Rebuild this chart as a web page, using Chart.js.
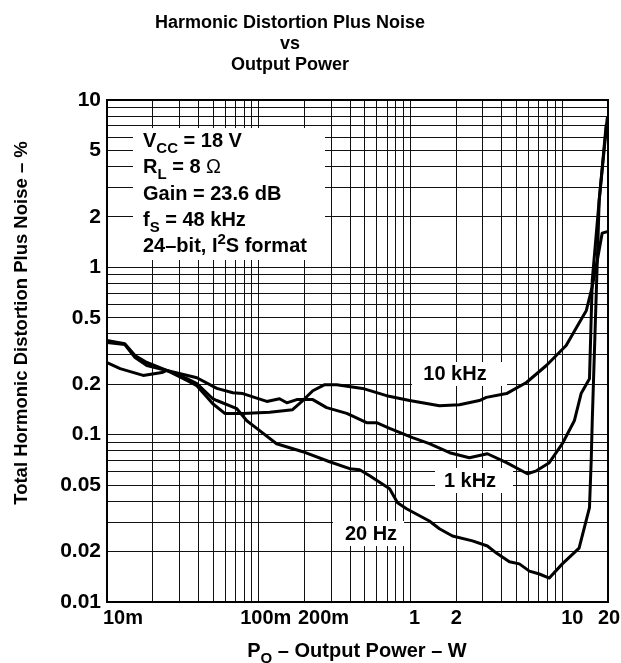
<!DOCTYPE html>
<html>
<head>
<script src="https://cdn.jsdelivr.net/npm/chart.js@4"></script>
<style>body{margin:0;background:#fff}</style>
</head>
<body>
<div style="width:621px;height:663px"><canvas id="canvas"></canvas></div>
<script>
// output power (W) and THD+N (%)
const power10k = [0.01, 0.0131, 0.0153, 0.0183, 0.0248, 0.0336, 0.0391, 0.0498, 0.0597, 0.0785, 0.118, 0.167, 0.195, 0.227, 0.272, 0.326, 0.483, 0.695, 0.985, 1.55, 2.10, 2.84, 3.16, 4.29, 5.80, 7.85, 10.6, 12.4, 14.4, 15.7, 17.0, 18.3, 20];
const thd10k = [0.356, 0.346, 0.289, 0.259, 0.242, 0.211, 0.196, 0.153, 0.134, 0.134, 0.136, 0.141, 0.160, 0.183, 0.199, 0.199, 0.189, 0.171, 0.160, 0.149, 0.151, 0.160, 0.167, 0.176, 0.205, 0.259, 0.341, 0.437, 0.553, 0.759, 1.10, 1.60, 1.64];

const power1k = [0.01, 0.0122, 0.0173, 0.0230, 0.0248, 0.0391, 0.0529, 0.0675, 0.0785, 0.113, 0.137, 0.153, 0.178, 0.227, 0.280, 0.380, 0.514, 0.597, 0.728, 1.03, 1.33, 1.81, 2.44, 3.21, 4.29, 5.89, 6.75, 8.21, 10.0, 12.0, 13.3, 15.1, 15.75, 17.5, 19.45];
const thd1k = [0.270, 0.248, 0.226, 0.235, 0.242, 0.219, 0.189, 0.178, 0.176, 0.158, 0.164, 0.155, 0.162, 0.162, 0.145, 0.134, 0.118, 0.118, 0.109, 0.096, 0.0883, 0.078, 0.0728, 0.0769, 0.068, 0.0584, 0.0608, 0.068, 0.0883, 0.121, 0.176, 0.216, 0.836, 2.52, 7.08];

const power20 = [0.01, 0.0131, 0.0153, 0.0183, 0.0248, 0.0336, 0.0391, 0.0498, 0.0529, 0.0717, 0.0834, 0.097, 0.131, 0.195, 0.293, 0.397, 0.462, 0.538, 0.728, 0.821, 0.941, 1.33, 1.55, 1.89, 2.56, 3.21, 3.68, 4.48, 5.21, 6.07, 7.06, 8.21, 10.0, 12.9, 15.1, 15.5, 15.75, 17.5, 19.77];
const thd20 = [0.365, 0.350, 0.297, 0.270, 0.242, 0.216, 0.202, 0.164, 0.160, 0.143, 0.121, 0.109, 0.0883, 0.0791, 0.0689, 0.0626, 0.0617, 0.0568, 0.0475, 0.0392, 0.0361, 0.0305, 0.0274, 0.0248, 0.0232, 0.0216, 0.0196, 0.0174, 0.0169, 0.0153, 0.0147, 0.0139, 0.0169, 0.0210, 0.0366, 0.0699, 0.121, 2.52, 7.80];

const xTickValues = [0.01, 0.1, 0.2, 1, 2, 10, 20];
const xTickLabels = ['10m', '100m', '200m', '1', '2', '10', '20'];
const yTickValues = [0.01, 0.02, 0.05, 0.1, 0.2, 0.5, 1, 2, 5, 10];
const yTickLabels = ['0.01', '0.02', '0.05', '0.1', '0.2', '0.5', '1', '2', '5', '10'];

// the original nudges its x labels sideways so they don't collide
const xLabelShift = [16, 7, 19, 4, 0, 10, 1];

const FONT = '"Liberation Sans", Arial, sans-serif';

// every 1..9 step of each decade, for the grid
function logGrid(min, max) {
  const out = [];
  for (let d = min; d < max * 1.0001; d *= 10) {
    for (let m = 1; m <= 9; m++) {
      const v = Number((m * d).toPrecision(3));
      if (v <= max * 1.0001) out.push(v);
    }
  }
  return out;
}

function labelFor(values, labels, v) {
  const i = values.findIndex(t => Math.abs(t - v) / t < 1e-6);
  return i < 0 ? '' : labels[i];
}

const pts = (xs, ys) => xs.map((x, i) => ({ x, y: ys[i] }));

function setFont(ctx, p, size) {
  const s = p.sub || p.sup ? Math.round(size * 0.75) : size;
  ctx.font = (p.normal ? '' : 'bold ') + s + 'px ' + FONT;
}

function drawParts(ctx, x, y, parts, size) {
  for (const p of parts) {
    setFont(ctx, p, size);
    const dy = p.sub ? size * 0.3 : p.sup ? -size * 0.38 : 0;
    ctx.fillText(p.t, x, y + dy);
    x += ctx.measureText(p.t).width;
  }
  return x;
}

function partsWidth(ctx, parts, size) {
  let w = 0;
  for (const p of parts) {
    setFont(ctx, p, size);
    w += ctx.measureText(p.t).width;
  }
  return w;
}

const texts = {
  id: 'texts',
  beforeDatasetsDraw(chart) {
    const ctx = chart.ctx;
    const a = chart.chartArea;
    ctx.save();
    ctx.strokeStyle = '#000';
    ctx.lineWidth = 2;
    ctx.strokeRect(a.left, a.top, a.right - a.left, a.bottom - a.top);

    ctx.fillStyle = '#fff';
    ctx.fillRect(133, 128, 192, 132);
    ctx.fillRect(412, 362, 95, 24);
    ctx.fillRect(435, 468, 78, 25);
    ctx.fillRect(333, 521, 71, 25);

    ctx.fillStyle = '#000';
    ctx.textBaseline = 'alphabetic';
    ctx.textAlign = 'left';
    const size = 20;
    drawParts(ctx, 143, 147, [{ t: 'V' }, { t: 'CC', sub: true }, { t: ' = 18 V' }], size);
    drawParts(ctx, 143, 173, [{ t: 'R' }, { t: 'L', sub: true }, { t: ' = 8 ' }, { t: 'Ω', normal: true }], size);
    drawParts(ctx, 143, 200, [{ t: 'Gain = 23.6 dB' }], size);
    drawParts(ctx, 143, 226, [{ t: 'f' }, { t: 'S', sub: true }, { t: ' = 48 kHz' }], size);
    drawParts(ctx, 143, 252, [{ t: '24–bit, I' }, { t: '2', sup: true }, { t: 'S format' }], size);

    ctx.font = 'bold 20px ' + FONT;
    ctx.textAlign = 'center';
    ctx.textBaseline = 'middle';
    ctx.fillText('10 kHz', 455, 374);
    ctx.fillText('1 kHz', 470, 481);
    ctx.fillText('20 Hz', 371, 534);
    ctx.restore();
  },
  afterDraw(chart) {
    const ctx = chart.ctx;
    const xs = chart.scales.x;
    ctx.save();
    ctx.fillStyle = '#000';

    // x tick labels
    ctx.font = 'bold 20px ' + FONT;
    ctx.textAlign = 'center';
    ctx.textBaseline = 'middle';
    xTickValues.forEach((v, i) => {
      ctx.fillText(xTickLabels[i], xs.getPixelForValue(v) + xLabelShift[i], 618);
    });

    ctx.textBaseline = 'alphabetic';
    ctx.font = 'bold 18px ' + FONT;
    ctx.fillText('Harmonic Distortion Plus Noise', 290, 28);
    ctx.fillText('vs', 290, 49);
    ctx.fillText('Output Power', 290, 70);

    const xt = [{ t: 'P' }, { t: 'O', sub: true }, { t: ' – Output Power – W' }];
    const w = partsWidth(ctx, xt, 20);
    ctx.textAlign = 'left';
    drawParts(ctx, 357 - w / 2, 657, xt, 20);

    ctx.translate(27, 323);
    ctx.rotate(-Math.PI / 2);
    ctx.textAlign = 'center';
    ctx.font = 'bold 18.5px ' + FONT;
    ctx.fillText('Total Hormonic Distortion Plus Noise – %', 0, 0);
    ctx.restore();
  }
};

const gridX = logGrid(0.01, 20);
const gridY = logGrid(0.01, 10);

const line = (data) => ({
  data, showLine: true, borderColor: '#000', borderWidth: 3,
  pointRadius: 0, fill: false, borderJoinStyle: 'round', borderCapStyle: 'round'
});

new Chart(document.getElementById('canvas'), {
  type: 'scatter',
  data: {
    datasets: [
      line(pts(power10k, thd10k)),
      line(pts(power1k, thd1k)),
      line(pts(power20, thd20))
    ]
  },
  options: {
    responsive: true,
    maintainAspectRatio: false,
    animation: false,
    layout: { padding: { left: 0, right: 13, top: 100, bottom: 0 } },
    plugins: { legend: { display: false }, tooltip: { enabled: false } },
    scales: {
      x: {
        type: 'logarithmic', min: 0.01, max: 20,
        afterBuildTicks: s => { s.ticks = gridX.map(v => ({ value: v })); },
        afterFit: s => { s.height = 61; s.paddingLeft = 0; s.paddingRight = 0; },
        grid: { color: '#111', lineWidth: 1, drawTicks: false },
        border: { display: false },
        ticks: { display: false, autoSkip: false }
      },
      y: {
        type: 'logarithmic', min: 0.01, max: 10,
        afterBuildTicks: s => { s.ticks = gridY.map(v => ({ value: v })); },
        afterFit: s => { s.width = 107; s.paddingTop = 0; s.paddingBottom = 0; },
        grid: { color: '#111', lineWidth: 1, drawTicks: false },
        border: { display: false },
        ticks: {
          autoSkip: false, padding: 6, color: '#000',
          font: { family: FONT, size: 21, weight: 'bold' },
          callback: v => labelFor(yTickValues, yTickLabels, v)
        }
      }
    }
  },
  plugins: [texts]
});
</script>
</body>
</html>
